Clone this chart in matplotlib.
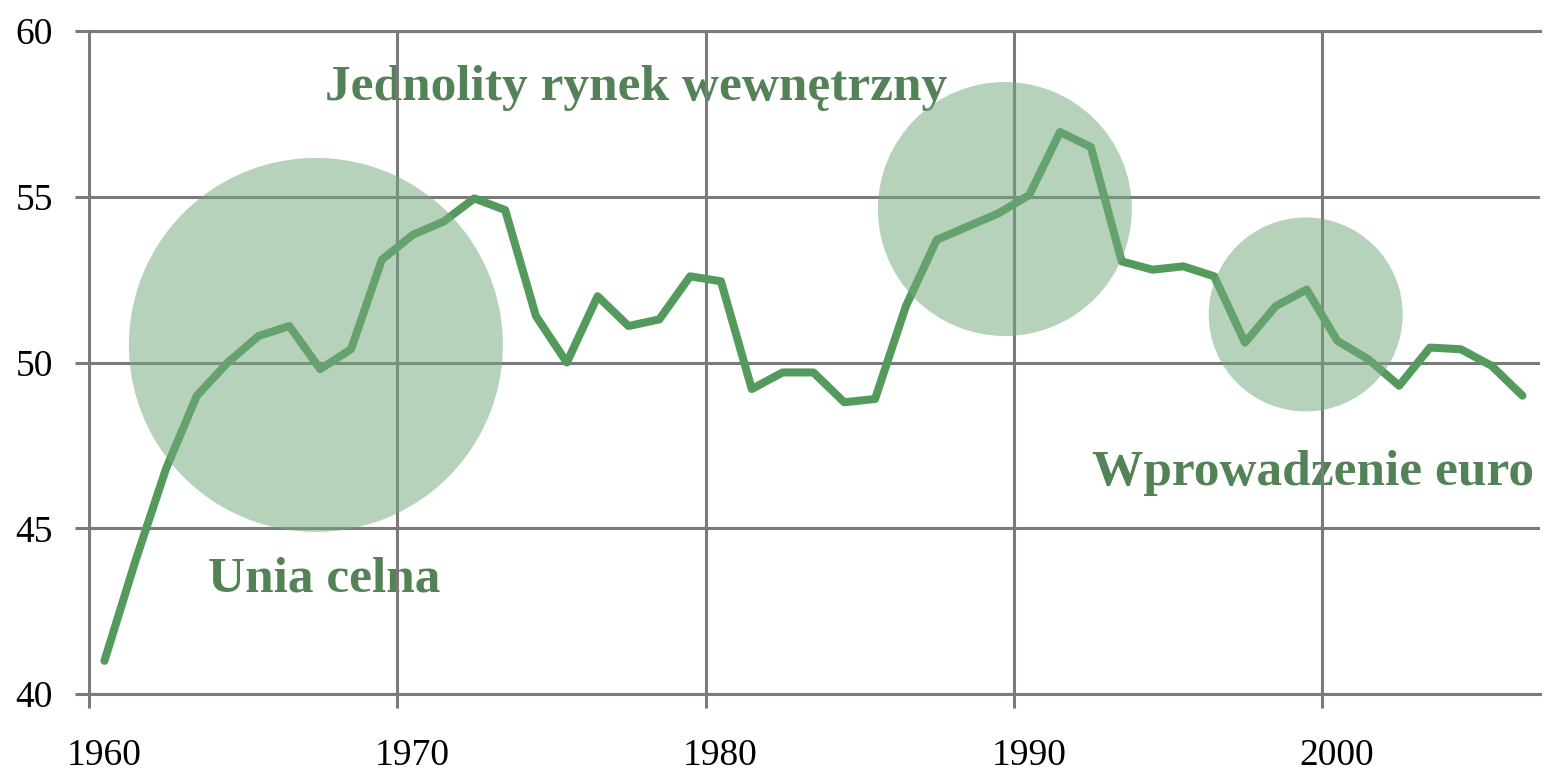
#!/usr/bin/env python3
import numpy as np
import matplotlib
matplotlib.use("Agg")
import matplotlib.pyplot as plt
from matplotlib.patches import Ellipse
import matplotlib.transforms as mtransforms

# ========================================================================
# Data
# ========================================================================
years = np.arange(1960, 2007) + 0.5
values = [
    41.0, 44.0, 46.8, 49.0, 50.0, 50.8, 51.1, 49.8, 50.4, 53.1,
    53.85, 54.25, 54.95, 54.6, 51.4, 50.0, 52.0, 51.1, 51.3, 52.6,
    52.45, 49.2, 49.7, 49.7, 48.8, 48.9, 51.7, 53.7, 54.1, 54.5,
    55.05, 56.95, 56.5, 53.05, 52.8, 52.9, 52.6, 50.6, 51.7, 52.2,
    50.65, 50.1, 49.3, 50.45, 50.4, 49.9, 49.0,
]

# circles: centre year, centre value, radius in pixels
circle_x = [1967.36, 1989.71, 1999.47]
circle_y = [50.53, 54.63, 51.45]
circle_r = [187, 127, 97]

labels = ["Unia celna", "Jednolity rynek wewnętrzny", "Wprowadzenie euro"]
label_x = [1963.86, 1967.65, 1992.53]
label_y = [43.08, 57.92, 46.30]

xticks = [1960, 1970, 1980, 1990, 2000]
yticks = [40, 45, 50, 55, 60]

# ========================================================================
# Styles
# ========================================================================
line_col = "#559A5D"
text_col = "#548257"
circ_col = "#76AA7E"
grid_col = "#7A7A7A"
serif = ["Liberation Serif", "DejaVu Serif"]

xmin, xmax = 1960, 2007.07
ymin, ymax = 40, 60

fig = plt.figure(figsize=(15.46, 7.74), dpi=100)
ax = fig.add_axes([89 / 1546, 1 - 694 / 774, (1540 - 89) / 1546, (694 - 31) / 774])
ax.set_xlim(xmin, xmax)
ax.set_ylim(ymin, ymax)

# px per data unit
px_x = (1540 - 89) / (xmax - xmin)
px_y = (694 - 31) / (ymax - ymin)

ax.plot(years, values, color=line_col, lw=5.8, solid_joinstyle="round",
        solid_capstyle="round", zorder=2)

for cx, cy, r in zip(circle_x, circle_y, circle_r):
    ax.add_patch(
        Ellipse((cx, cy), 2 * r / px_x, 2 * r / px_y, facecolor=circ_col,
                edgecolor="none", alpha=0.52, zorder=3)
    )

for t, x, y in zip(labels, label_x, label_y):
    ax.text(x, y, t, color=text_col, fontsize=37, fontweight="bold",
            family=serif, ha="left", va="baseline", zorder=0.2)

# grid and axes
ax.set_xticks(xticks)
ax.set_yticks(yticks)
ax.grid(True, color=grid_col, lw=2.2, zorder=1)
ax.set_axisbelow(True)
for s in ["top", "left", "bottom"]:
    ax.spines[s].set_color(grid_col)
    ax.spines[s].set_linewidth(2.2)
ax.spines["right"].set_visible(False)
ax.tick_params(axis="both", length=10, width=2.2, color=grid_col,
               labelsize=27, labelcolor="black")
ax.tick_params(axis="x", pad=22)
ax.tick_params(axis="y", pad=16)
for lab in ax.get_xticklabels() + ax.get_yticklabels():
    lab.set_family(serif)

offset = mtransforms.ScaledTranslation(15 / 100, 0, fig.dpi_scale_trans)
for lab in ax.get_xticklabels():
    lab.set_transform(lab.get_transform() + offset)

fig.savefig("out.png", dpi=100)
